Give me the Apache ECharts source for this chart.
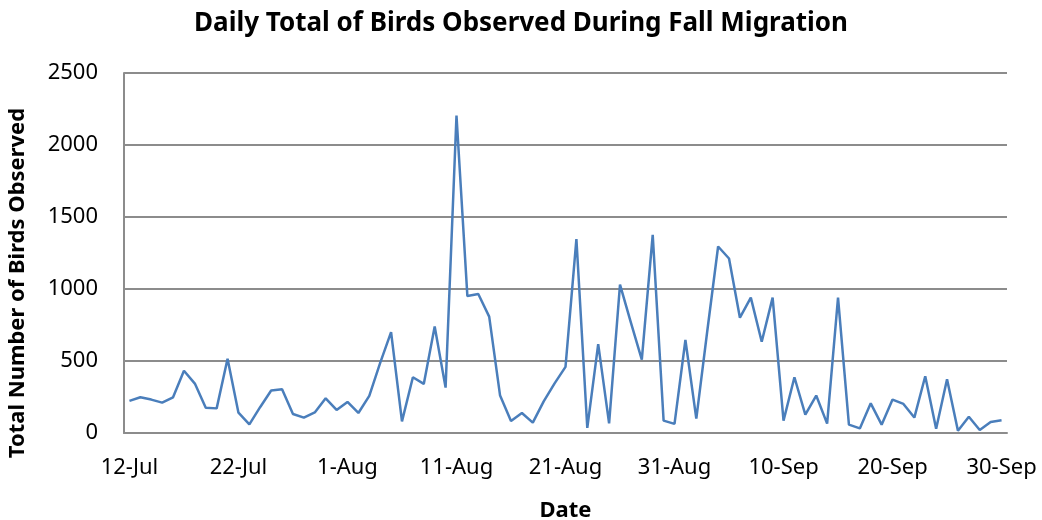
<!DOCTYPE html>
<html>
<head>
<meta charset="utf-8">
<script src="https://cdn.jsdelivr.net/npm/echarts@6/dist/echarts.min.js"></script>
<style>
  html, body { margin: 0; padding: 0; background: #fff; }
  #chart { width: 1042px; height: 520px; }
</style>
</head>
<body>
<div id="chart"></div>
<script>
var font = 'Noto Sans';

// daily totals, 12-Jul .. 31-Jul
var julCounts = [223, 248, 232, 211, 248, 432, 343, 176, 171, 515,
                 141, 60, 181, 295, 304, 132, 107, 143, 241, 160];
// 1-Aug .. 31-Aug
var augCounts = [216, 139, 258, 487, 700, 81, 387, 341, 740, 315,
                 2205, 951, 965, 808, 260, 84, 139, 72, 220, 345,
                 459, 1346, 35, 617, 67, 1030, 766, 510, 1376, 86, 63];
// 1-Sep .. 30-Sep
var sepCounts = [646, 100, 705, 1295, 1212, 801, 940, 634, 940, 86,
                 387, 127, 260, 65, 940, 58, 32, 206, 58, 232,
                 202, 107, 394, 30, 373, 16, 113, 21, 77, 88];

var yTicks = [0, 500, 1000, 1500, 2000, 2500];

var months = [
  { name: 'Jul', first: 12, counts: julCounts },
  { name: 'Aug', first: 1, counts: augCounts },
  { name: 'Sep', first: 1, counts: sepCounts }
];

var dates = [];
var counts = [];
months.forEach(function (m) {
  m.counts.forEach(function (v, i) {
    dates.push((m.first + i) + '-' + m.name);
    counts.push(v);
  });
});

var chart = echarts.init(document.getElementById('chart'));

chart.setOption({
  animation: false,
  title: {
    text: 'Daily Total of Birds Observed During Fall Migration',
    left: 'center',
    top: 6,
    textStyle: { fontFamily: font, fontSize: 26, fontWeight: 'bold', color: '#000' }
  },
  grid: { left: 124, right: 35, top: 73, bottom: 87, outerBoundsMode: 'none' },
  graphic: [{
    type: 'text',
    x: 7,
    y: 283,
    rotation: Math.PI / 2,
    style: {
      text: 'Total Number of Birds Observed',
      font: 'bold 22px "Noto Sans"',
      fill: '#000',
      align: 'center',
      verticalAlign: 'top'
    }
  }],
  xAxis: {
    type: 'category',
    data: dates,
    boundaryGap: true,
    name: 'Date',
    nameLocation: 'middle',
    nameGap: 67,
    nameTextStyle: { fontFamily: font, fontSize: 22, fontWeight: 'bold', color: '#000' },
    axisLine: { lineStyle: { color: '#8c8c8c', width: 2 } },
    axisTick: { show: false },
    axisLabel: { interval: 9, margin: 24, fontFamily: font, fontSize: 22, color: '#000' },
    splitLine: { show: false }
  },
  yAxis: {
    type: 'value',
    min: yTicks[0],
    max: yTicks[yTicks.length - 1],
    interval: 500,
    axisLine: { show: true, lineStyle: { color: '#8c8c8c', width: 2 } },
    axisTick: { show: false },
    axisLabel: {
      margin: 26,
      fontFamily: font,
      fontSize: 22,
      color: '#000',
      formatter: function (v) { return String(v); }
    },
    splitLine: { lineStyle: { color: '#8c8c8c', width: 2 } }
  },
  series: [{
    type: 'line',
    data: counts,
    showSymbol: false,
    lineStyle: { color: '#4a7ebb', width: 2.5 }
  }]
});
</script>
</body>
</html>
